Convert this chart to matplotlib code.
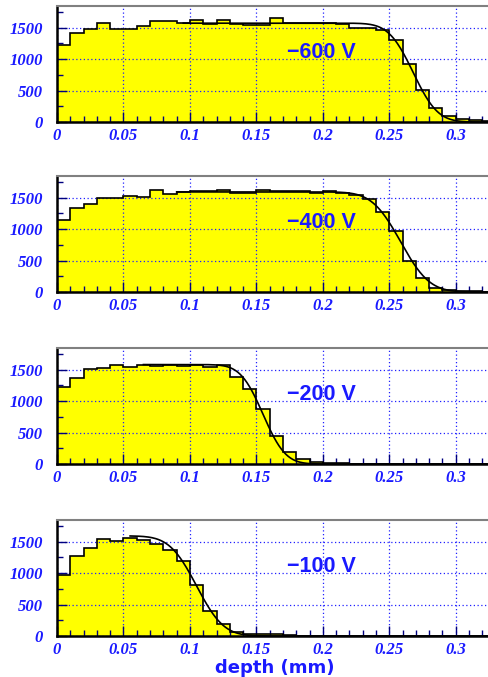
import math
import numpy as np
import matplotlib.pyplot as plt
from matplotlib.ticker import MultipleLocator

# bin edges (mm), 0.01 wide
edges = np.round(np.arange(0, 0.331, 0.01), 3)

# histogram contents, one list per bias voltage
counts_600 = [1219, 1415, 1478, 1574, 1484, 1484, 1521, 1600, 1606, 1574,
              1627, 1563, 1627, 1563, 1537, 1537, 1659, 1574, 1574, 1574,
              1574, 1553, 1500, 1500, 1457, 1298, 927, 514, 228, 90,
              53, 26, 16]
counts_400 = [1142, 1342, 1405, 1500, 1489, 1521, 1510, 1626, 1563, 1595,
              1605, 1605, 1621, 1579, 1574, 1627, 1605, 1605, 1605, 1574,
              1605, 1574, 1537, 1484, 1272, 970, 493, 228, 69, 37,
              10, 10, 2]
counts_200 = [1230, 1368, 1505, 1520, 1576, 1535, 1566, 1556, 1576, 1556,
              1566, 1535, 1566, 1389, 1187, 869, 450, 197, 81, 30,
              20, 10, 5, 5, 3, 3, 2, 2, 2, 1,
              1, 1, 1]
counts_100 = [975, 1265, 1390, 1540, 1505, 1560, 1530, 1460, 1364, 1193,
              805, 398, 186, 60, 35, 25, 25, 15, 5, 5,
              3, 3, 2, 2, 1, 1, 1, 1, 1, 1,
              1, 1, 1]

labels = ["\u2212600 V", "\u2212400 V", "\u2212200 V", "\u2212100 V"]

# edge fit (plateau, mean depth, width, start of fit range)
fit_plateau = [1570, 1590, 1580, 1590]
fit_mean = [0.268, 0.2586, 0.155, 0.105]
fit_sigma = [0.0145, 0.017, 0.0133, 0.016]
fit_start = [0.095, 0.09, 0.065, 0.055]

blue = '#1a1aff'
panel_bottoms = [0.8198, 0.5687, 0.3146, 0.0606]
panel_height = 0.172

fig = plt.figure(figsize=(4.89, 6.77), dpi=100)
all_counts = [counts_600, counts_400, counts_200, counts_100]

for i, counts in enumerate(all_counts):
    ax = fig.add_axes([0.1166, panel_bottoms[i], 0.8834, panel_height])
    ax.stairs(counts, edges, fill=True, color='#ffff00', zorder=1)
    ax.stairs(counts, edges, color='black', lw=1.2, zorder=3)

    xf = np.linspace(fit_start[i], 0.33, 300)
    yf = [fit_plateau[i] / 2 * math.erfc((x - fit_mean[i]) / (math.sqrt(2) * fit_sigma[i])) for x in xf]
    ax.plot(xf, yf, color='black', lw=1.2, zorder=4)

    ax.set_xlim(0, 0.325)
    ax.set_ylim(0, 1850)
    ax.xaxis.set_minor_locator(MultipleLocator(0.01))
    ax.yaxis.set_minor_locator(MultipleLocator(250))
    ax.set_xticks(np.arange(0, 0.31, 0.05))
    ax.set_xticklabels(['0', '0.05', '0.1', '0.15', '0.2', '0.25', '0.3'])
    ax.set_yticks([0, 500, 1000, 1500])
    ax.set_yticklabels(['0', '500', '1000', '1500'])

    ax.grid(True, which='major', color='#2020ff', ls=(0, (1, 2)), lw=0.9, zorder=2)
    ax.tick_params(which='both', direction='in', color='#000080', top=False, right=False)
    ax.tick_params(which='major', length=7, width=1)
    ax.tick_params(which='minor', length=4, width=1)
    ax.tick_params(axis='y', pad=10)
    ax.tick_params(axis='x', pad=4)
    for lab in ax.get_xticklabels() + ax.get_yticklabels():
        lab.set_fontfamily('Liberation Serif')
        lab.set_fontweight('bold')
        lab.set_fontstyle('italic')
        lab.set_fontsize(12)
        lab.set_color(blue)

    ax.spines['left'].set_linewidth(1.8)
    ax.spines['bottom'].set_linewidth(1.8)
    ax.spines['top'].set_color('#808080')
    ax.spines['top'].set_linewidth(1.5)
    ax.spines['right'].set_color('#808080')

    ax.text(0.173, 1100, labels[i], color=blue, fontsize=15.5, fontweight='bold',
            fontfamily='Liberation Sans', ha='left', va='center', zorder=5)

fig.text(0.5625, 0.014, 'depth (mm)', color=blue, fontsize=13, fontweight='bold',
         fontfamily='DejaVu Sans', ha='center', va='center')

fig.savefig('out.png', dpi=100)
